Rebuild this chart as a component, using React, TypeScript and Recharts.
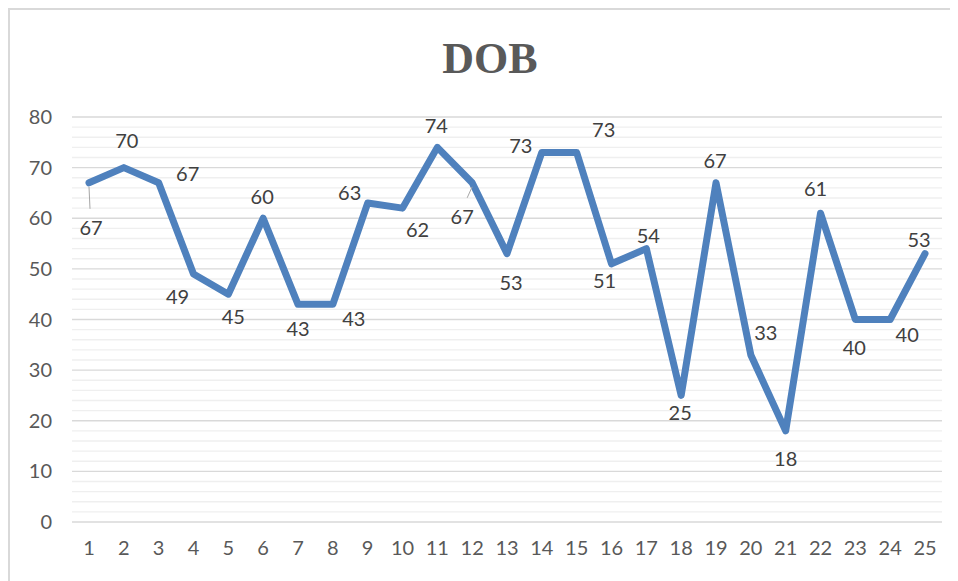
import React from "react";
import {
  LineChart,
  Line,
  XAxis,
  YAxis,
  CartesianGrid,
  ReferenceLine,
} from "recharts";

const CATEGORIES = ["1", "2", "3", "4", "5", "6", "7", "8", "9", "10", "11", "12", "13", "14", "15", "16", "17", "18", "19", "20", "21", "22", "23", "24", "25"];
const DOB = [67, 70, 67, 49, 45, 60, 43, 43, 63, 62, 74, 67, 53, 73, 73, 51, 54, 25, 67, 33, 18, 61, 40, 40, 53];
const Y_TICKS = [0, 10, 20, 30, 40, 50, 60, 70, 80];
const MINOR_TICKS = [2, 4, 6, 8, 12, 14, 16, 18, 22, 24, 26, 28, 32, 34, 36, 38, 42, 44, 46, 48, 52, 54, 56, 58, 62, 64, 66, 68, 72, 74, 76, 78];

// where Excel put each data label, relative to its point
const LABEL_OFFSETS: [number, number][] = [
  [2, 44], [3, -28], [29, -10], [-16, 22], [5, 22], [-1, -22], [0, 24], [21, 14],
  [-18, -11], [15, 21], [-1, -22], [-10, 33], [4, 28], [-21, -7], [27, -23], [-7, 16],
  [2, -14], [-1, 17], [-1, -23], [15, -23], [0, 27], [-5, -25], [-1, 27], [17, 14], [-6, -15],
];
const LEADERS = [0, 11];

const FONT = "Lato, 'Open Sans', sans-serif";

const data = CATEGORIES.map((c, i) => ({ name: c, value: DOB[i] }));

const renderLabel = (props: any) => {
  const { x, y, value, index } = props;
  const [dx, dy] = LABEL_OFFSETS[index] || [0, -20];
  return (
    <g key={`lbl-${index}`}>
      {LEADERS.includes(index) && (
        <line
          x1={x}
          y1={y + 4}
          x2={x + dx * 0.5}
          y2={y + dy - 18}
          stroke="#a6a6a6"
          strokeWidth={1}
        />
      )}
      <text
        x={x + dx}
        y={y + dy}
        textAnchor="middle"
        dominantBaseline="central"
        fill="#404040"
        fontSize={20}
        fontFamily={FONT}
      >
        {value}
      </text>
    </g>
  );
};

export default function App() {
  return (
    <div style={{ position: "relative", width: 950, height: 573 }}>
      <div
        style={{
          position: "absolute",
          left: 0,
          top: 0,
          width: 948,
          height: 571,
          borderTop: "2px solid #d9d9d9",
          borderLeft: "2px solid #d9d9d9",
        }}
      />
      <LineChart
        width={950}
        height={573}
        data={data}
        margin={{ top: 109, right: 16, left: 24, bottom: 29 }}
      >
        <CartesianGrid vertical={false} stroke="#d9d9d9" strokeWidth={1.3} />
        {MINOR_TICKS.map((t) => (
          <ReferenceLine key={t} y={t} stroke="#efefef" strokeWidth={1.3} />
        ))}
        <XAxis
          dataKey="name"
          axisLine={false}
          tickLine={false}
          tickSize={0}
          tickMargin={19}
          height={30}
          padding={{ left: 17, right: 17 }}
          interval={0}
          tick={{ fill: "#595959", fontSize: 20, fontFamily: FONT }}
        />
        <YAxis
          domain={[0, 80]}
          ticks={Y_TICKS}
          axisLine={false}
          tickLine={false}
          tickSize={0}
          tickMargin={20}
          width={40}
          tick={{ fill: "#595959", fontSize: 20, fontFamily: FONT }}
        />
        <Line
          type="linear"
          dataKey="value"
          stroke="#4f81bd"
          strokeWidth={7}
          strokeLinejoin="round"
          strokeLinecap="round"
          dot={false}
          isAnimationActive={false}
          label={renderLabel}
        />
      </LineChart>
      <svg
        width={950}
        height={100}
        style={{ position: "absolute", left: 0, top: 0, pointerEvents: "none" }}
      >
        <text
          x={482}
          y={65}
          textAnchor="middle"
          fill="#595959"
          fontSize={44}
          fontWeight="bold"
          fontFamily="'Liberation Serif', serif"
        >
          DOB
        </text>
      </svg>
    </div>
  );
}
